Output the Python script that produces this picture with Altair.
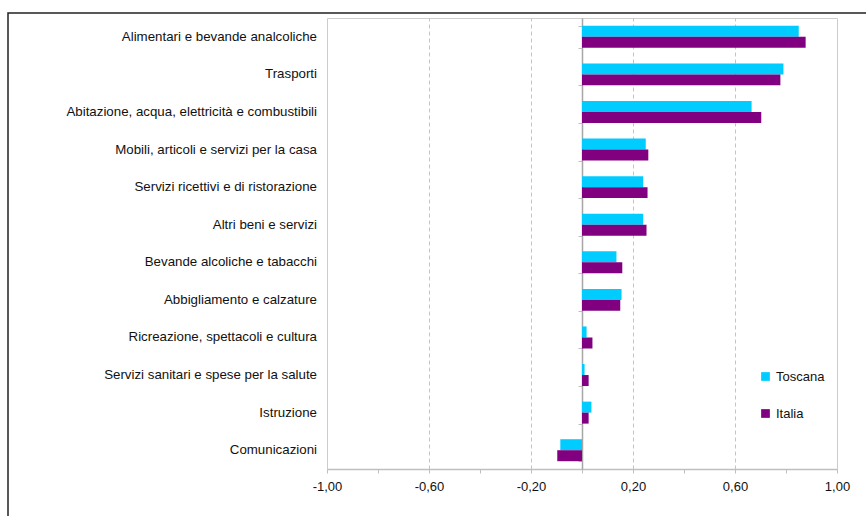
import altair as alt
import pandas as pd

# Contributi alla variazione dei prezzi per divisione di spesa
categorie = [
    "Alimentari e bevande analcoliche",
    "Trasporti",
    "Abitazione, acqua, elettricità e combustibili",
    "Mobili, articoli e servizi per la casa",
    "Servizi ricettivi e di ristorazione",
    "Altri beni e servizi",
    "Bevande alcoliche e tabacchi",
    "Abbigliamento e calzature",
    "Ricreazione, spettacoli e cultura",
    "Servizi sanitari e spese per la salute",
    "Istruzione",
    "Comunicazioni",
]
toscana = [0.85, 0.79, 0.665, 0.25, 0.24, 0.24, 0.135, 0.155, 0.018, 0.01, 0.037, -0.085]
italia = [0.877, 0.778, 0.703, 0.26, 0.257, 0.253, 0.158, 0.15, 0.041, 0.026, 0.026, -0.097]
serie = ["Toscana", "Italia"]
colori = ["#00CCFF", "#800080"]
tick_valori = [-1.0, -0.8, -0.6, -0.4, -0.2, 0.0, 0.2, 0.4, 0.6, 0.8, 1.0]

rows = []
for c, t, i in zip(categorie, toscana, italia):
    rows.append({"voce": c, "serie": "Toscana", "valore": t})
    rows.append({"voce": c, "serie": "Italia", "valore": i})
df = pd.DataFrame(rows)

FONT = "Liberation Sans"
GRIGIO = "#bfbfbf"
TESTO = "#111111"

LARGHEZZA = 510
ALTEZZA = 451

etichetta_maggiore = "abs(round(datum.value * 10)) % 4 == 2"

x_enc = alt.X(
    "valore:Q",
    scale=alt.Scale(domain=[-1, 1], nice=False, zero=False),
    axis=alt.Axis(
        title=None,
        values=tick_valori,
        labelExpr=(
            f"{etichetta_maggiore} ? "
            "replace(replace(format(datum.value, '.2f'), '.', ','), '\u2212', '-') : ''"
        ),
        grid=True,
        gridColor="#c4c4c4",
        gridDash=[4, 3],
        gridOpacity={
            "condition": {
                "test": f"{etichetta_maggiore} && abs(datum.value) < 0.99",
                "value": 1,
            },
            "value": 0,
        },
        domainColor=GRIGIO,
        domainWidth=1.5,
        tickColor=GRIGIO,
        tickSize=4,
        labelFont=FONT,
        labelFontSize=13,
        labelColor=TESTO,
        labelPadding=7,
        labelFlush=False,
    ),
)

y_scale = alt.Scale(domain=categorie, paddingInner=0.415, paddingOuter=0.2075)

barre = alt.Chart(df).mark_bar().encode(
    x=x_enc,
    y=alt.Y(
        "voce:N",
        sort=categorie,
        scale=y_scale,
        axis=alt.Axis(
            title=None,
            ticks=False,
            domain=False,
            labelFont=FONT,
            labelFontSize=13.3,
            labelColor=TESTO,
            labelPadding=10.5,
            labelLimit=400,
        ),
    ),
    yOffset=alt.YOffset(
        "serie:N", sort=serie, scale=alt.Scale(domain=serie, paddingInner=0, paddingOuter=0)
    ),
    color=alt.Color(
        "serie:N",
        scale=alt.Scale(domain=serie, range=colori),
        legend=alt.Legend(
            title=None,
            orient="none",
            legendX=432,
            legendY=352,
            symbolType="square",
            symbolSize=76,
            symbolStrokeWidth=0,
            labelFont=FONT,
            labelFontSize=13,
            labelColor=TESTO,
            labelOffset=4,
            rowPadding=23,
            padding=0,
        ),
    ),
)

# asse verticale sullo zero, con le tacche tra le voci
asse_zero = alt.Chart(df).mark_point(opacity=0).encode(
    x=alt.X("valore:Q"),
    y=alt.Y(
        "voce:N",
        sort=categorie,
        axis=alt.Axis(
            title=None,
            orient="left",
            labels=False,
            tickBand="extent",
            tickSize=4,
            tickColor=GRIGIO,
            domainColor="#a6a6a6",
            domainWidth=1.5,
            offset=-LARGHEZZA / 2,
        ),
    ),
)

# cornice esterna
cornice = alt.Chart(alt.Data(values=[{}])).mark_rect(
    fillOpacity=0, stroke="#222222", strokeWidth=1.5, clip=False
).encode(
    x=alt.value(-319),
    x2=alt.value(700),
    y=alt.value(-5),
    y2=alt.value(700),
)

chart = (
    alt.layer(barre, asse_zero, cornice)
    .resolve_axis(y="independent")
    .properties(
        width=LARGHEZZA,
        height=ALTEZZA,
        padding={"left": 327, "top": 18, "right": 29, "bottom": 47},
        autosize="none",
        background="white",
    )
    .configure_view(stroke="#cccccc", strokeWidth=1)
)

chart.save("out.html", embed_options={"renderer": "svg", "actions": False})
